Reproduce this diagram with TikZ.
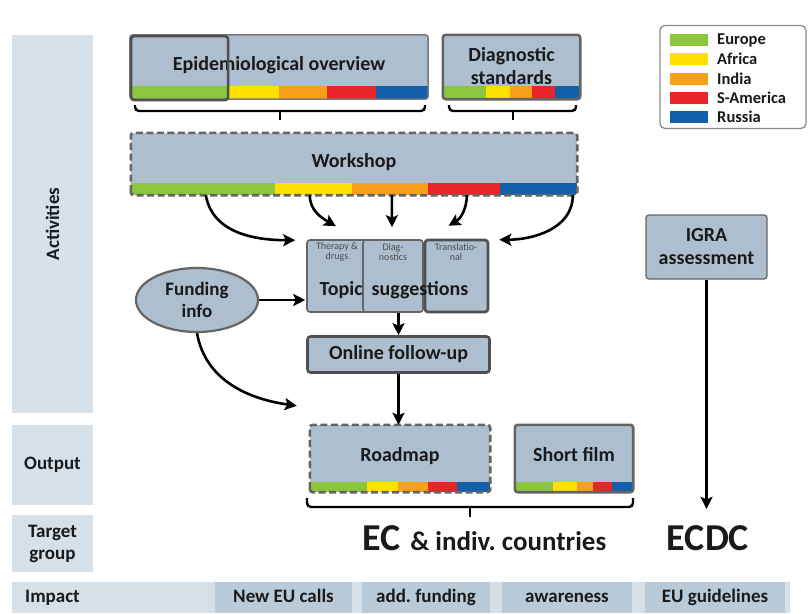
\documentclass[tikz,border=0pt]{standalone}
\usepackage{fontspec}
\setmainfont{Carlito}
\usetikzlibrary{arrows.meta,shapes.geometric}
\definecolor{nodefill}{HTML}{ADBFCE}
\definecolor{labfill}{HTML}{D5E0E9}
\definecolor{impfill}{HTML}{B9CAD8}
\definecolor{bordD}{HTML}{505050}
\definecolor{bordM}{HTML}{646464}
\definecolor{bordL}{HTML}{7A7A7A}
\definecolor{cEU}{HTML}{8CC63F}
\definecolor{cAF}{HTML}{FFE100}
\definecolor{cIN}{HTML}{F7A11A}
\definecolor{cSA}{HTML}{E8262A}
\definecolor{cRU}{HTML}{135FA9}
\definecolor{txt}{HTML}{1A1A1A}
\newcommand\stripes[8]{%
 \fill[cEU] (#3,#1) rectangle (#4,#2);
 \fill[cAF] (#4,#1) rectangle (#5,#2);
 \fill[cIN] (#5,#1) rectangle (#6,#2);
 \fill[cSA] (#6,#1) rectangle (#7,#2);
 \fill[cRU] (#7,#1) rectangle (#8,#2);}
\begin{document}
\frenchspacing
\begin{tikzpicture}[x=1pt,y=-1pt,
 base/.style={rectangle, rounded corners=3pt, inner sep=0pt, align=center, text=txt, font=\bfseries\fontsize{20}{23}\selectfont},
 raised/.style={text height=14pt, text depth=8pt},
 labbox/.style={rectangle, fill=labfill, inner sep=0pt, align=center, text=txt, font=\bfseries\fontsize{19}{22}\selectfont},
 impbox/.style={rectangle, fill=impfill, inner sep=0pt, text=txt, font=\bfseries\fontsize{19}{20}\selectfont, minimum height=31, text height=13.5pt, text depth=4pt},
 arr/.style={-{Stealth[length=12pt,width=12pt,inset=2.5pt]}, line width=2.6pt, black},
 brace/.style={line width=2.4pt, black, rounded corners=4pt},
 dashedborder/.style={draw=bordM, line width=2.6pt, dash pattern=on 7pt off 3.5pt, rounded corners=3pt},
 small/.style={font=\fontsize{10}{10.5}\selectfont, text=black!70, align=center, inner sep=0pt},
 legtext/.style={anchor=west, inner sep=0pt, font=\bfseries\fontsize{16.5}{17}\selectfont, text=txt},
]
\useasboundingbox (0,0) rectangle (808,613);
\fill[white] (0,0) rectangle (808,613);

% ---------- left column ----------
\node[labbox, rotate=90, minimum width=378, minimum height=81] (act) at (52.5,224) {Activities};
\node[labbox, minimum width=81, minimum height=80] (outp) at (52.5,465) {Output};
\node[labbox, minimum width=81, minimum height=57] (tg) at (52.5,543.5) {Target\\group};
\node[labbox, minimum width=778, minimum height=31, anchor=north west] (band) at (12,582) {};
\node[labbox, fill=none, text height=13.5pt, text depth=4pt] (imp) at (52.5,597.5) {Impact};
\node[impbox, minimum width=137] (i1) at (283.5,597.5) {New EU calls};
\node[impbox, minimum width=128] (i2) at (426,597.5) {add. funding};
\node[impbox, minimum width=130] (i3) at (567,597.5) {awareness};
\node[impbox, minimum width=140] (i4) at (715,597.5) {EU guidelines};

% ---------- epidemiological overview ----------
\node[base, fill=nodefill, raised, minimum width=298, minimum height=64] (epi) at (279,67) {Epidemiological overview};
\begin{scope}
 \clip[rounded corners=3pt] (epi.south west) rectangle (epi.north east);
 \stripes{86}{99}{130}{227}{279}{327}{376}{428}
\end{scope}
\draw[draw=bordL, line width=1.5pt, rounded corners=3pt] (epi.south west) rectangle (epi.north east);
\node[base, draw=bordD, line width=2.6pt, minimum width=97, minimum height=64, anchor=north west] (epieu) at (epi.north west) {};

% ---------- diagnostic standards ----------
\node[base, fill=nodefill, text depth=3pt, minimum width=137, minimum height=64] (diag) at (511.5,67) {Diagnostic\\standards};
\begin{scope}
 \clip[rounded corners=3pt] (diag.south west) rectangle (diag.north east);
 \stripes{86}{99}{443}{486}{510}{532}{555}{580}
\end{scope}
\draw[draw=bordM, line width=2.6pt, rounded corners=3pt] (diag.south west) rectangle (diag.north east);

% braces
\draw[brace] (135,105) -- (135,111) -- (425,111) -- (425,105);
\draw[brace] (280,111) -- (280,120);
\draw[brace] (449,105) -- (449,111) -- (576,111) -- (576,105);
\draw[brace] (513,111) -- (513,120);

% ---------- workshop ----------
\node[base, fill=nodefill, raised, minimum width=446, minimum height=62] (ws) at (354,164) {Workshop};
\begin{scope}
 \clip[rounded corners=3pt] (ws.south west) rectangle (ws.north east);
 \stripes{183}{195}{131}{275}{352}{428}{500}{577}
\end{scope}
\draw[dashedborder] (ws.south west) rectangle (ws.north east);

% ---------- topic suggestions ----------
\node[base, fill=nodefill, draw=bordM, line width=1.6pt, minimum width=60, minimum height=72] (ts1) at (337,276) {};
\node[base, fill=nodefill, draw=bordM, line width=1.6pt, minimum width=60, minimum height=72] (ts2) at (393,276) {};
\node[base, fill=nodefill, draw=bordD, line width=2.6pt, minimum width=63, minimum height=72] (ts3) at (456.5,276) {};
\node[small] (s1) at (337,252) {Therapy \&\\drugs};
\node[small] (s2) at (393,252) {Diag-\\nostics};
\node[small] (s3) at (456,252) {Translatio-\\nal};
\node[base] (tstext) at (394,290) {Topic\hspace{9pt}suggestions};

% ---------- funding info ----------
\node[ellipse, fill=nodefill, draw=bordM, line width=2.2pt, minimum width=122, minimum height=64, inner sep=0pt, align=center, text=txt, font=\bfseries\fontsize{19}{22}\selectfont] (fund) at (197,300) {Funding\\info};

% ---------- online follow-up ----------
\node[base, fill=nodefill, draw=bordD, line width=2.6pt, minimum width=182, minimum height=36] (ofu) at (398.5,354.5) {Online follow-up};

% ---------- roadmap ----------
\node[base, fill=nodefill, raised, minimum width=180, minimum height=67] (rm) at (400,458.5) {Roadmap};
\begin{scope}
 \clip[rounded corners=3pt] (rm.south west) rectangle (rm.north east);
 \stripes{482}{492}{310}{367}{398}{428}{457}{490}
\end{scope}
\draw[dashedborder] (rm.south west) rectangle (rm.north east);

% ---------- short film ----------
\node[base, fill=nodefill, raised, minimum width=118, minimum height=67] (sf) at (574,458.5) {Short film};
\begin{scope}
 \clip[rounded corners=3pt] (sf.south west) rectangle (sf.north east);
 \stripes{482}{492}{515}{553}{577}{593}{612}{633}
\end{scope}
\draw[draw=bordM, line width=2.6pt, rounded corners=3pt] (sf.south west) rectangle (sf.north east);

\draw[brace] (307,498) -- (307,507) -- (633,507) -- (633,498);
\draw[brace] (470,507) -- (470,517);

% ---------- target texts ----------
\node[anchor=base west, inner sep=0pt, text=txt] (ec) at (362,550) {\fontsize{38}{38}\selectfont\bfseries EC\hspace{10pt}\fontsize{27}{27}\selectfont\&~indiv. countries};
\node[anchor=base, inner sep=0pt, text=txt, font=\bfseries\fontsize{38}{38}\selectfont] (ecdc) at (708,550) {ECDC};

% ---------- IGRA ----------
\node[base, fill=nodefill, draw=bordM, line width=1.3pt, minimum width=121, minimum height=64] (igra) at (706.5,247) {IGRA\\assessment};

% ---------- legend ----------
\node[draw=black!45, line width=1.3pt, rounded corners=5pt, fill=white, minimum width=146, minimum height=103, inner sep=0pt] (leg) at (733,77) {};
\fill[cEU] (670,34) rectangle (708,46);
\fill[cAF] (670,53) rectangle (708,65);
\fill[cIN] (670,72.5) rectangle (708,84.5);
\fill[cSA] (670,92) rectangle (708,104);
\fill[cRU] (670,111) rectangle (708,123);
\node[legtext] (lEU) at (717,40) {Europe};
\node[legtext] (lAF) at (717,59) {Africa};
\node[legtext] (lIN) at (717,78.5) {India};
\node[legtext] (lSA) at (717,98) {S-America};
\node[legtext] (lRU) at (717,117) {Russia};

% ---------- arrows ----------
\draw[arr] ([xshift=75pt]ws.south west) to[out=-80,in=180] ([xshift=-11pt,yshift=-1pt]ts1.north west);
\draw[arr] ([xshift=179pt]ws.south west) to[out=-90,in=150] ([xshift=-1pt,yshift=13pt]ts1.north);
\draw[arr] ([xshift=261pt]ws.south west) -- ([xshift=-1pt,yshift=12pt]ts2.north);
\draw[arr] ([xshift=336pt]ws.south west) to[out=-90,in=30] ([xshift=-8pt,yshift=13pt]ts3.north);
\draw[arr] ([xshift=442pt]ws.south west) to[out=-90,in=0] ([xshift=10pt,yshift=-1pt]ts3.north east);
\draw[arr, shorten >=1pt] (fund.east) -- (fund.east -| ts1.west);
\draw[arr] (fund.south) to[out=-80,in=172] ([xshift=-13pt,yshift=19pt]rm.north west);
\draw[arr] (ofu.north |- ts2.south) -- (ofu.north);
\draw[arr] (ofu.south) -- (ofu.south |- rm.north);
\draw[arr, shorten >=16pt] (igra.south) -- (igra.south |- ecdc.north);
\end{tikzpicture}
\end{document}
